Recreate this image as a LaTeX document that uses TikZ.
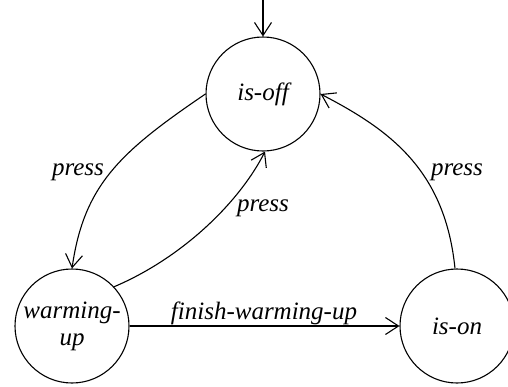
\documentclass[tikz,border=0pt]{standalone}
\usepackage{fontspec}
\newfontfamily\lblfont{LiberationSerif-Italic.ttf}
\usetikzlibrary{arrows.meta}
\begin{document}
\begin{tikzpicture}[x=1pt,y=-1pt,
  state/.style={circle,draw,line width=1.1pt,minimum size=114pt,inner sep=0pt,
    font=\fontsize{25}{27}\lblfont,align=center},
  lbl/.style={font=\fontsize{25}{27}\lblfont,inner sep=0pt},
  edge/.style={line width=1.1pt,-{Straight Barb[length=13pt,width=17pt,line width=1.1pt]}}]
\useasboundingbox (0,0) rectangle (508,386);
\node[state] (off) at (263,94) {is-off};
\node[state] (warm) at (72,326) {warming-\\up};
\node[state] (on) at (457,326) {is-on};
\coordinate (init) at (263,0);
\draw[edge] (init) -- (off.north);
\draw[edge] (off.180) .. controls (120,152) and (84,185) .. (warm.90);
\draw[edge] (warm.43) .. controls (184,257) and (240,201) .. (off.272);
\draw[edge] (on.92) .. controls (445,170) and (390,130) .. (off.0);
\draw[edge] (warm.0) -- (on.180);
\node[lbl] (l1) at (78,172) {press};
\node[lbl] (l2) at (263,208) {press};
\node[lbl] (l3) at (457,172) {press};
\node[lbl] (l4) at (264,313) {finish-warming-up};
\end{tikzpicture}
\end{document}
